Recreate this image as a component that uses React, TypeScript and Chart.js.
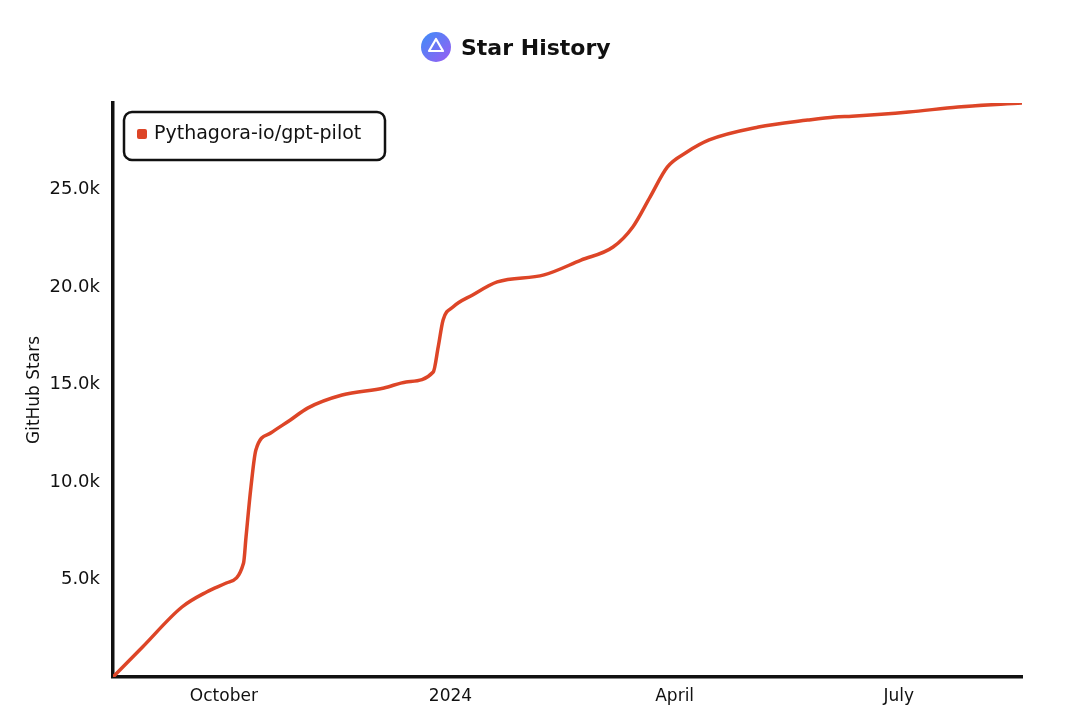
import React, { useEffect, useRef } from "react";
import { Chart, registerables } from "chart.js";

Chart.register(...registerables);

const seriesName = "Pythagora-io/gpt-pilot";
const dates = [
  "2023-08-17", "2023-08-29", "2023-09-14", "2023-09-24", "2023-10-02", "2023-10-09",
  "2023-10-10", "2023-10-12", "2023-10-14", "2023-10-20", "2023-10-28", "2023-11-04",
  "2023-11-18", "2023-12-05", "2023-12-14", "2023-12-25", "2023-12-27", "2023-12-29",
  "2024-01-02", "2024-01-10", "2024-01-20", "2024-02-08", "2024-02-23", "2024-03-07",
  "2024-03-15", "2024-03-22", "2024-03-29", "2024-04-06", "2024-04-15", "2024-05-05",
  "2024-05-25", "2024-06-05", "2024-06-12", "2024-07-05", "2024-07-25", "2024-08-20",
];
const stars = [
  0, 1540, 3590, 4360, 4820, 5850,
  7180, 9740, 11640, 12510, 13180, 13790,
  14460, 14820, 15130, 15640, 16920, 18310,
  18970, 19590, 20260, 20620, 21380, 22050,
  23080, 24610, 26150, 26920, 27540, 28200,
  28560, 28720, 28760, 28970, 29230, 29435,
];
const tickDates = ["2023-10-01", "2024-01-01", "2024-04-01", "2024-07-01"];
const tickLabels = ["October", "2024", "April", "July"];

const FONT = "'DejaVu Sans', sans-serif";
const LINE_COLOR = "#dd4527";
const toDay = (d: string) => Date.parse(d + "T00:00:00Z") / 86400000;

const decorPlugin = {
  id: "decor",
  afterDraw(chart: any) {
    const ctx = chart.ctx as CanvasRenderingContext2D;
    ctx.save();
    // title logo
    const cx = 436, cy = 47, r = 15;
    const g = ctx.createLinearGradient(cx - r, cy - r, cx + r, cy + r);
    g.addColorStop(0, "#3d8ef8");
    g.addColorStop(1, "#9a5cf2");
    ctx.fillStyle = g;
    ctx.beginPath();
    ctx.arc(cx, cy, r, 0, Math.PI * 2);
    ctx.fill();
    ctx.strokeStyle = "#ffffff";
    ctx.lineWidth = 2.2;
    ctx.lineJoin = "round";
    ctx.beginPath();
    ctx.moveTo(cx, cy - 8);
    ctx.lineTo(cx + 7, cy + 4);
    ctx.lineTo(cx - 7, cy + 4);
    ctx.closePath();
    ctx.stroke();
    // title text
    ctx.fillStyle = "#111";
    ctx.font = `bold 22px ${FONT}`;
    ctx.textAlign = "left";
    ctx.textBaseline = "middle";
    ctx.fillText("Star History", 461, 49);

    // legend box
    const ds = chart.data.datasets[0];
    ctx.lineWidth = 2.5;
    ctx.strokeStyle = "#111";
    ctx.fillStyle = "#fff";
    const bx = 124, by = 112, bw = 261, bh = 48, br = 8;
    ctx.beginPath();
    ctx.roundRect(bx, by, bw, bh, br);
    ctx.fill();
    ctx.stroke();
    ctx.fillStyle = ds.borderColor;
    ctx.beginPath();
    ctx.roundRect(137, 129, 10, 10, 2);
    ctx.fill();
    ctx.fillStyle = "#111";
    ctx.font = `19px ${FONT}`;
    ctx.textBaseline = "middle";
    ctx.fillText(ds.label, 154, 134);
    ctx.restore();
  },
};

export default function App() {
  const ref = useRef<HTMLCanvasElement | null>(null);
  useEffect(() => {
    if (!ref.current) return;
    const points = dates.map((d, i) => ({ x: toDay(d), y: stars[i] }));
    const chart = new Chart(ref.current, {
      type: "line",
      data: {
        datasets: [
          {
            label: seriesName,
            data: points,
            borderColor: LINE_COLOR,
            backgroundColor: LINE_COLOR,
            borderWidth: 3.5,
            pointRadius: 0,
            cubicInterpolationMode: "monotone",
            borderCapStyle: "round",
            borderJoinStyle: "round",
          },
        ],
      },
      options: {
        responsive: false,
        animation: false,
        layout: { padding: { top: 103, right: 58, left: 0, bottom: 0 } },
        plugins: { legend: { display: false }, title: { display: false }, tooltip: { enabled: false } },
        scales: {
          x: {
            type: "linear",
            min: toDay(dates[0]),
            max: toDay(dates[dates.length - 1]),
            grid: { display: false, drawTicks: false },
            border: { display: true, color: "#111", width: 3.5 },
            afterBuildTicks: (scale: any) => {
              scale.ticks = tickDates.map((d) => ({ value: toDay(d) }));
            },
            afterFit: (scale: any) => {
              scale.height = 34;
            },
            ticks: {
              autoSkip: false,
              maxRotation: 0,
              padding: 9,
              color: "#111",
              font: { family: FONT, size: 17 },
              callback: (v: any) => {
                const i = tickDates.findIndex((d) => toDay(d) === v);
                return i >= 0 ? tickLabels[i] : "";
              },
            },
          },
          y: {
            type: "linear",
            min: 0,
            max: Math.max(...stars),
            grid: { display: false, drawTicks: false },
            border: { display: true, color: "#111", width: 3.5 },
            afterFit: (scale: any) => {
              scale.width = 113;
            },
            afterBuildTicks: (scale: any) => {
              const t = [];
              for (let v = 5000; v < scale.max; v += 5000) t.push({ value: v });
              scale.ticks = t;
            },
            title: {
              display: true,
              text: "GitHub Stars",
              color: "#111",
              font: { family: FONT, size: 17 },
              padding: { top: 24, bottom: 0 },
            },
            ticks: {
              padding: 13,
              color: "#111",
              font: { family: FONT, size: 18 },
              callback: (v: any) => (Number(v) / 1000).toFixed(1) + "k",
            },
          },
        },
      },
      plugins: [decorPlugin],
    });
    return () => chart.destroy();
  }, []);
  return (
    <div style={{ position: "absolute", left: 0, top: 0, width: 1080, height: 711, background: "#fff" }}>
      <canvas ref={ref} width={1080} height={711} />
    </div>
  );
}
